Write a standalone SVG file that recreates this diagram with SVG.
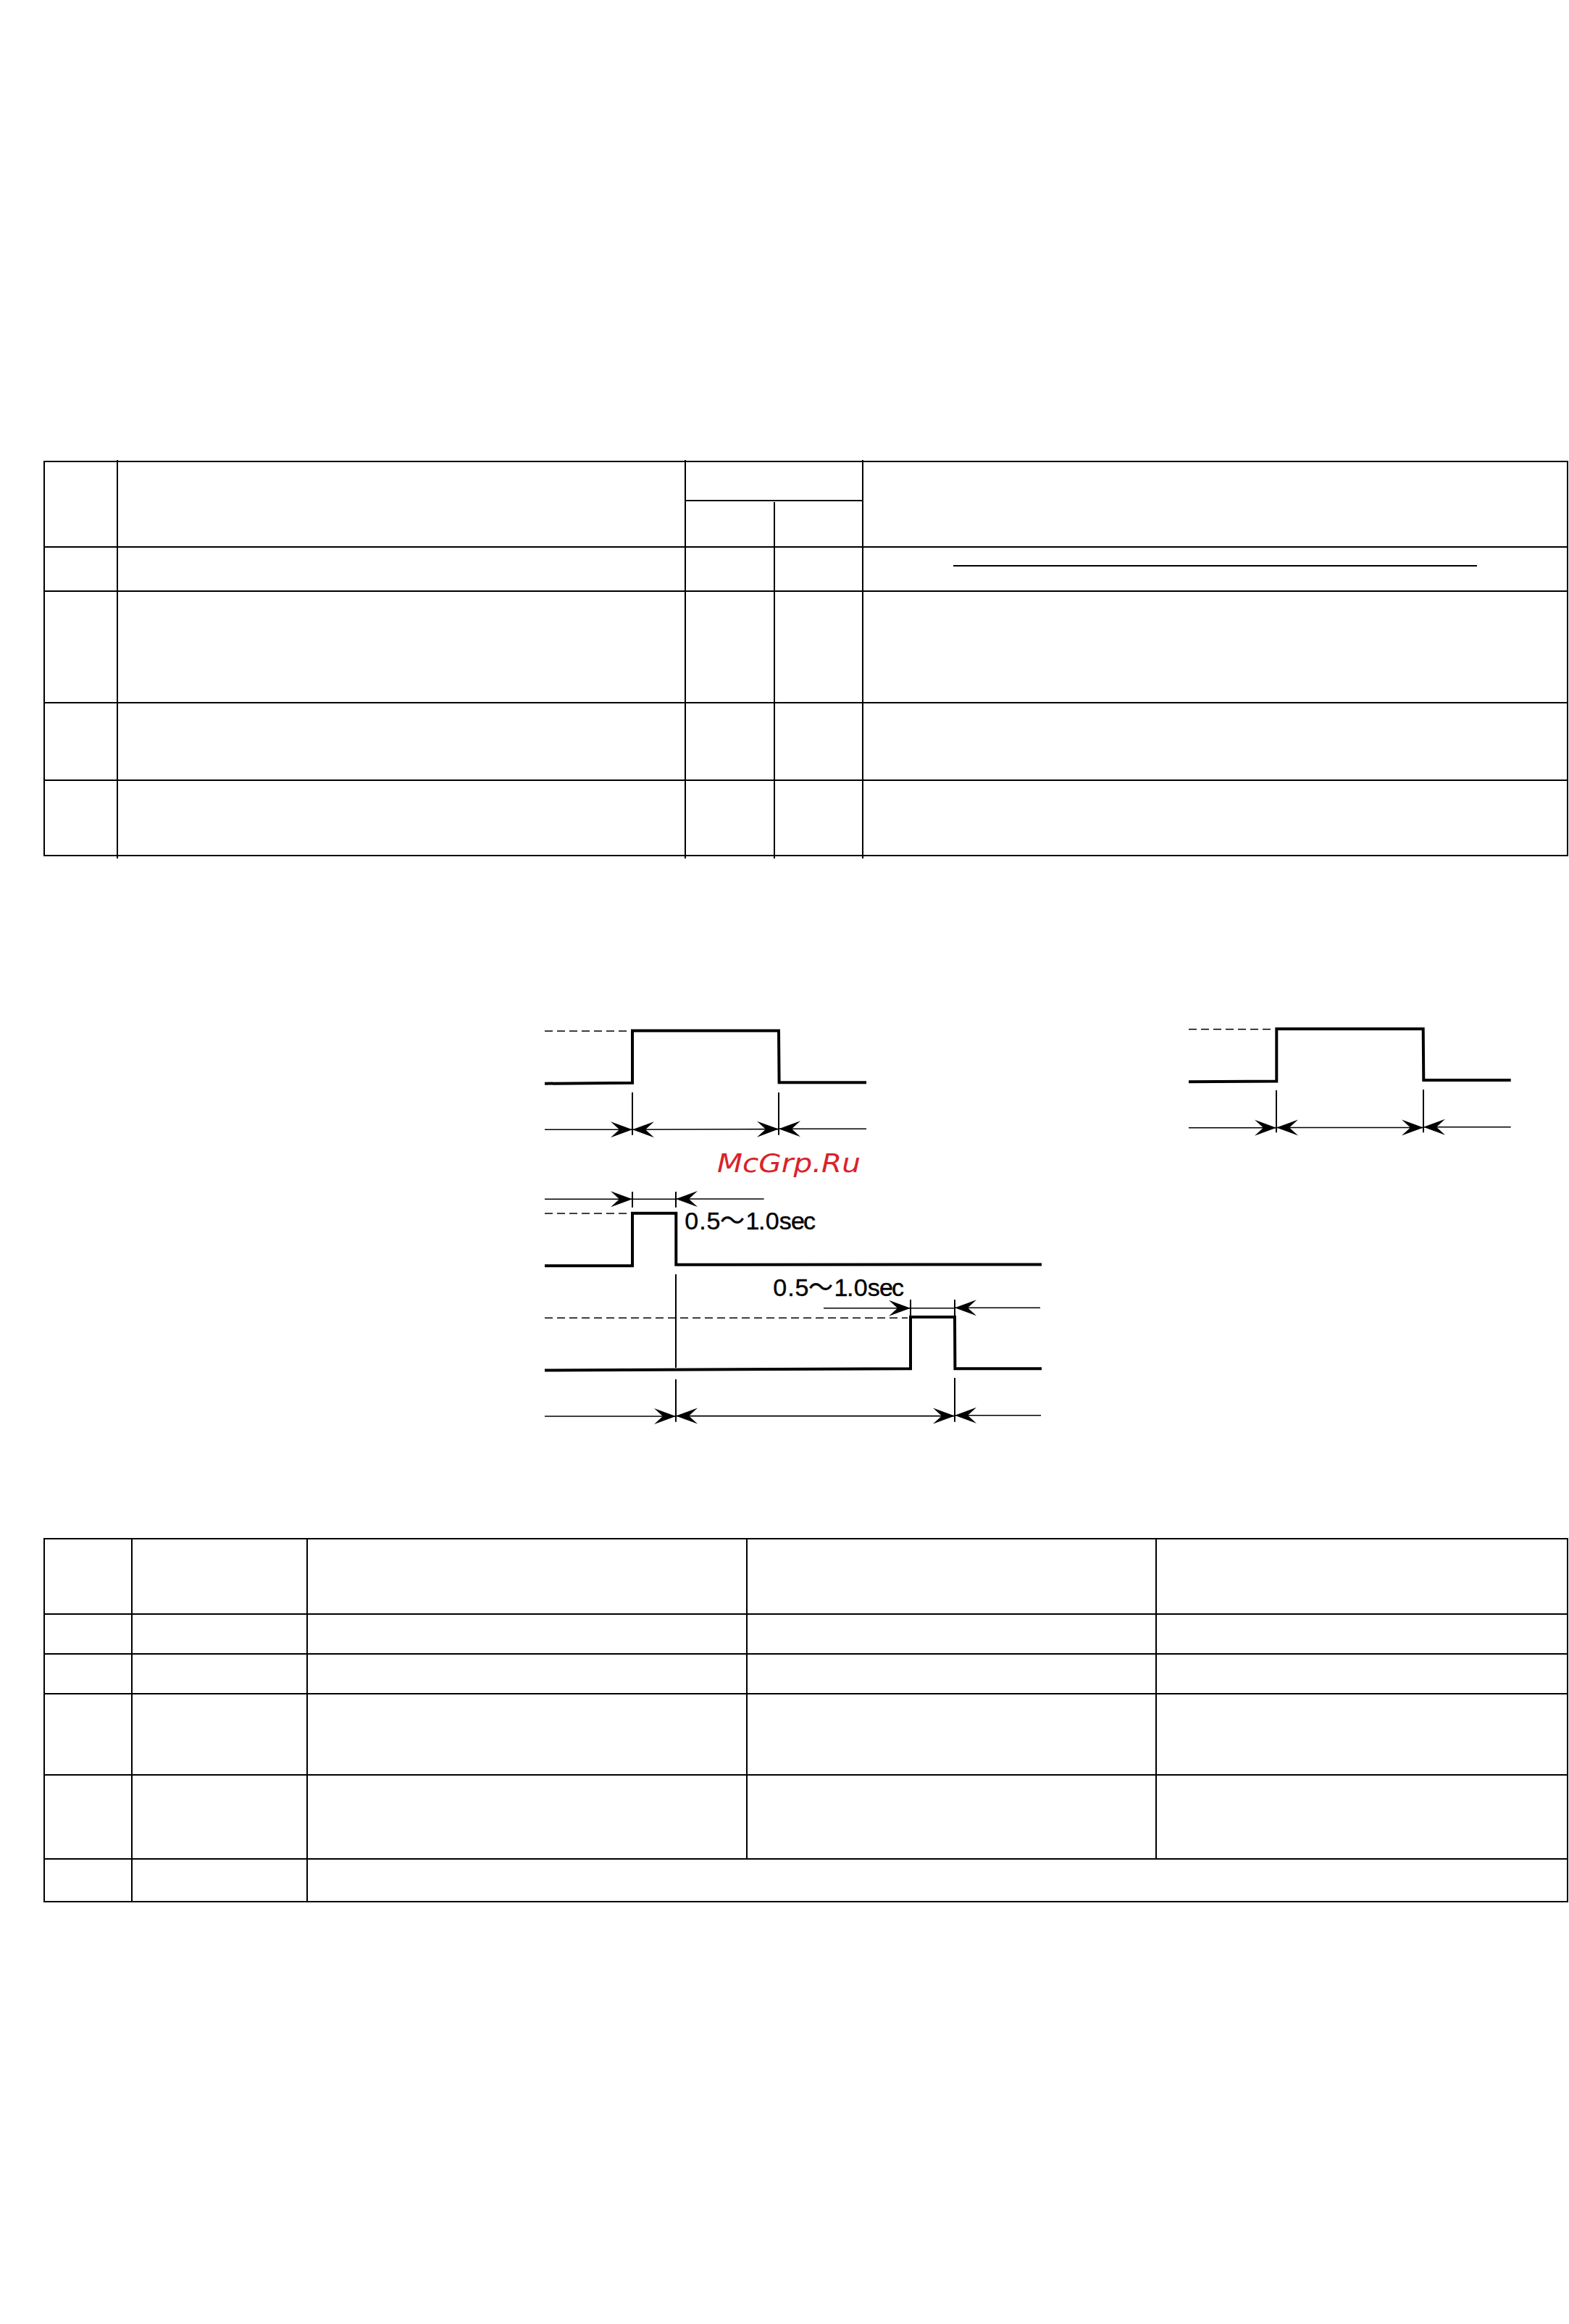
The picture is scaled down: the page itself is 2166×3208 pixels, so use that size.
<svg xmlns="http://www.w3.org/2000/svg" width="2166" height="3208" viewBox="0 0 2166 3208">
<style>
.h{stroke:#000;stroke-width:2;fill:none}
.v{stroke:#000;stroke-width:2;fill:none}
.w{stroke:#000;stroke-width:4;fill:none;stroke-linejoin:miter}
.d{stroke:#000;stroke-width:1.6;fill:none;stroke-dasharray:11 6}
.t{stroke:#000;stroke-width:2;fill:none}
.a{stroke:#000;stroke-width:1.6;fill:none}
.a2{marker-end:url(#ah)}
.a3{marker-start:url(#ah);marker-end:url(#ah)}
.a1{marker-start:url(#ah)}
.l{font-family:"Liberation Sans","Noto Sans CJK JP",sans-serif;font-size:34px;fill:#000;stroke:#000;stroke-width:.4}
.m{font-family:"DejaVu Sans",sans-serif;font-style:italic;font-size:36px;fill:#d9232a}
</style>
<defs>
<marker id="ah" markerUnits="userSpaceOnUse" markerWidth="34" markerHeight="26" refX="30" refY="12" orient="auto-start-reverse">
<path d="M30 12L0 1L12 12L0 23Z" fill="#000"/>
</marker>
</defs>
<rect width="2166" height="3208" fill="#fff"/>

<g id="table-1">
<path class="h" d="M60 637H2165M946 691H1191M60 755H2165M60 816H2165M60 970H2165M60 1077H2165M60 1181H2165"/>
<path class="v" d="M61 636V1182M162 635V1185M946 635V1185M1069 693V1185M1191 635V1185M2164 636V1182"/>
<path class="h" d="M1316 781H2039"/>
</g>

<g id="table-2">
<path class="h" d="M60 2124H2165M60 2228H2165M60 2283H2165M60 2338H2165M60 2450H2165M60 2566H2165M60 2625H2165"/>
<path class="v" d="M61 2123V2626M182 2123V2626M424 2123V2626M1031 2123V2566M1596 2123V2566M2164 2123V2626"/>
</g>

<g id="waveform-1">
<path class="d" d="M752 1423.3H868"/>
<path class="w" d="M752 1495.7L873 1494.8L873 1422.7H1075L1075.6 1494.3H1196"/>
</g>
<g id="waveform-2">
<path class="d" d="M752 1675H868"/>
<path class="w" d="M752 1747.3H873V1674.7H933.3V1745.8L1438 1745.4"/>
<text class="l" x="945.3 965.3 975.4 994 1029.6 1047 1056.7 1075.7 1092 1109" y="1697">0.5〜1.0sec</text>
</g>
<g id="waveform-3">
<path class="d" d="M752 1819.3H1253"/>
<path class="w" d="M752 1891.5L1257 1889.3V1818H1318L1318.4 1889.3H1438"/>
<text class="l" x="1067.3 1087.3 1097.4 1116 1151.6 1169 1178.7 1197.7 1214 1231" y="1789">0.5〜1.0sec</text>
</g>
<g id="waveform-4">
<path class="d" d="M1641 1420.7H1757"/>
<path class="w" d="M1641 1493.3L1762.3 1492.6V1420.3H1964.7L1965.3 1491H2085.7"/>
</g>
<g id="watermark">
<text class="m" x="990" y="1618" textLength="198" lengthAdjust="spacingAndGlyphs">McGrp.Ru</text>
</g>

<g id="connectors">
<path class="t" d="M873 1508V1566.7M1075 1508V1566.7M873 1645V1666.7M933 1645V1666.7M933 1759V1888M933 1904V1962.7M1318 1902V1962.7M1257 1794V1816.7M1318 1794V1816.7M1762 1505V1563.3M1965 1504V1563.3"/>
<path class="a a2" d="M752 1559.3H873"/>
<path class="a a3" d="M873 1559.3L1075 1558.6"/>
<path class="a a1" d="M1075 1558.3H1196"/>
<path class="a a2" d="M752 1655.3H873"/>
<path class="a" d="M873 1655.3H933"/>
<path class="a a1" d="M933 1655H1054.6"/>
<path class="a a2" d="M1137 1805.7H1257"/>
<path class="a" d="M1257 1805.7H1318"/>
<path class="a a1" d="M1318 1805.3H1436"/>
<path class="a a2" d="M752 1955H933"/>
<path class="a a3" d="M933 1954.6H1318"/>
<path class="a a1" d="M1318 1953.7H1437"/>
<path class="a a2" d="M1641 1556.7H1762"/>
<path class="a a3" d="M1762 1556.5H1965"/>
<path class="a a1" d="M1965 1555.7H2085.7"/>
</g>
</svg>
